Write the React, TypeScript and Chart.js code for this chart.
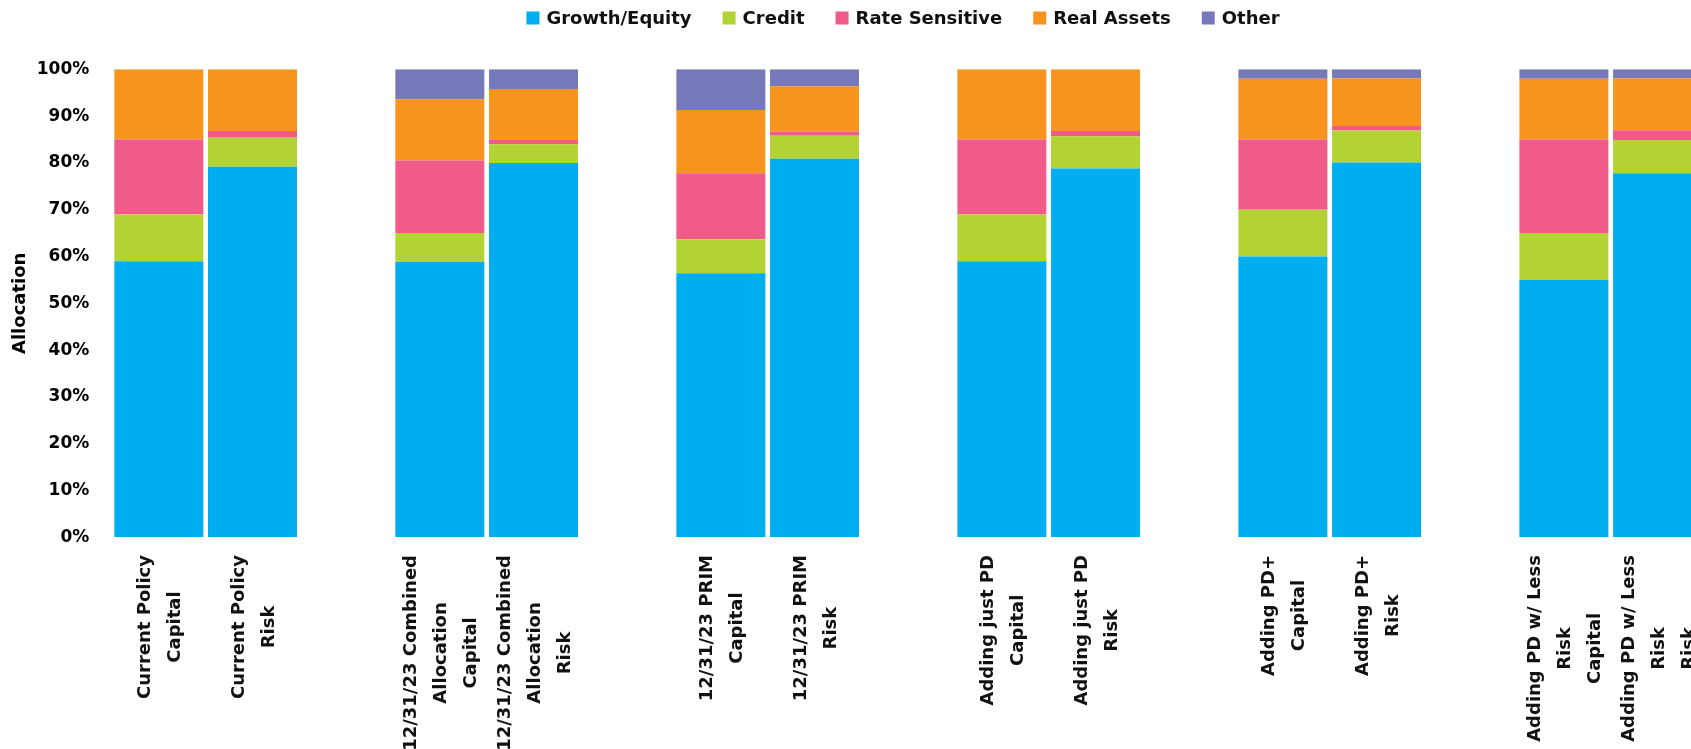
import React, { useEffect, useRef } from "react";
import { Chart, registerables } from "chart.js";

Chart.register(...registerables);

// ---------- data ----------
const CATEGORY_LABELS: string[][] = [
  ["Current Policy", "Capital"],
  ["Current Policy", "Risk"],
  [],
  ["12/31/23 Combined", "Allocation", "Capital"],
  ["12/31/23 Combined", "Allocation", "Risk"],
  [],
  ["12/31/23 PRIM", "Capital"],
  ["12/31/23 PRIM", "Risk"],
  [],
  ["Adding just PD", "Capital"],
  ["Adding just PD", "Risk"],
  [],
  ["Adding PD+", "Capital"],
  ["Adding PD+", "Risk"],
  [],
  ["Adding PD w/ Less", "Risk", "Capital"],
  ["Adding PD w/ Less", "Risk", "Risk"],
];

const GROWTH_EQUITY = [59, 79.2, null, 58.9, 80.0, null, 56.4, 80.9, null, 59, 78.8, null, 60, 80.1, null, 55, 77.8];
const CREDIT = [10, 6.2, null, 6.1, 4.0, null, 7.3, 4.9, null, 10, 6.9, null, 10, 6.8, null, 10, 7.1];
const RATE_SENSITIVE = [16, 1.4, null, 15.5, 0.9, null, 14.1, 0.9, null, 16, 1.1, null, 15, 1.0, null, 20, 2.1];
const REAL_ASSETS = [15, 13.2, null, 13.1, 10.9, null, 13.5, 9.7, null, 15, 13.2, null, 13, 10.2, null, 13, 11.1];
const OTHER = [0, 0, null, 6.4, 4.2, null, 8.7, 3.6, null, 0, 0, null, 2, 1.9, null, 2, 1.9];

const SERIES_NAMES = ["Growth/Equity", "Credit", "Rate Sensitive", "Real Assets", "Other"];
const SERIES_VALUES = [GROWTH_EQUITY, CREDIT, RATE_SENSITIVE, REAL_ASSETS, OTHER];
const SERIES_COLORS = ["#00AEEF", "#B3D335", "#F05B8A", "#F7941E", "#7579B9"];

const Y_TICK_SUFFIX = "%";
const Y_AXIS_TITLE = "Allocation";

// ---------- style ----------
const FONT = "'DejaVu Sans', 'Open Sans', sans-serif";
const TEXT_COLOR = "#111111";

const categoryLabelPlugin = {
  id: "categoryLabels",
  afterDraw(chart: any) {
    const ctx = chart.ctx;
    const xs = chart.scales.x;
    const top = chart.chartArea.bottom + 17.7;
    ctx.save();
    ctx.font = `bold 18px ${FONT}`;
    ctx.fillStyle = TEXT_COLOR;
    ctx.textAlign = "center";
    ctx.textBaseline = "middle";
    CATEGORY_LABELS.forEach((lines, i) => {
      if (!lines.length) return;
      const x = xs.getPixelForValue(i) + 1.5;
      const maxW = Math.max(...lines.map((l) => ctx.measureText(l).width));
      ctx.save();
      ctx.translate(x, top + maxW / 2);
      ctx.rotate(-Math.PI / 2);
      lines.forEach((l, j) => {
        ctx.fillText(l, 0, (j - (lines.length - 1) / 2) * 30);
      });
      ctx.restore();
    });
    ctx.restore();
  },
};

const topLegendPlugin = {
  id: "topLegend",
  afterDraw(chart: any) {
    const ctx = chart.ctx;
    ctx.save();
    ctx.font = `bold 18px ${FONT}`;
    ctx.textBaseline = "middle";
    ctx.textAlign = "left";
    const box = 13;
    const gap = 7;
    const spacing = 31;
    const items = chart.data.datasets.map((d: any) => ({
      text: d.label as string,
      color: d.backgroundColor as string,
      w: ctx.measureText(d.label).width as number,
    }));
    const total =
      items.reduce((s: number, it: any) => s + box + gap + it.w, 0) + spacing * (items.length - 1);
    let x = chart.width / 2 - total / 2;
    const cy = 18;
    items.forEach((it: any) => {
      ctx.fillStyle = it.color;
      ctx.fillRect(x, cy - box / 2, box, box);
      ctx.fillStyle = TEXT_COLOR;
      ctx.fillText(it.text, x + box + gap, cy + 1);
      x += box + gap + it.w + spacing;
    });
    ctx.restore();
  },
};

export default function App() {
  const ref = useRef<HTMLCanvasElement>(null);

  useEffect(() => {
    if (!ref.current) return;
    const chart = new Chart(ref.current, {
      type: "bar",
      data: {
        labels: CATEGORY_LABELS.map((l) => l.join(" ")),
        datasets: SERIES_NAMES.map((name, k) => ({
          label: name,
          data: SERIES_VALUES[k] as any,
          backgroundColor: SERIES_COLORS[k],
          borderWidth: 0,
          barPercentage: 0.95,
          categoryPercentage: 1.0,
        })),
      },
      options: {
        animation: false,
        responsive: true,
        maintainAspectRatio: false,
        layout: {
          padding: { top: 69.3, bottom: 222.7, left: 0, right: 101.6 },
        },
        plugins: {
          legend: { display: false },
          tooltip: { enabled: false },
          title: { display: false },
        },
        scales: {
          x: {
            stacked: true,
            ticks: { display: false },
            grid: { display: false, drawTicks: false },
            border: { display: false },
          },
          y: {
            stacked: true,
            min: 0,
            max: 100,
            ticks: {
              stepSize: 10,
              callback: (v: any) => `${v}${Y_TICK_SUFFIX}`,
              font: { family: FONT, size: 17, weight: "bold" },
              color: "#000",
              padding: 22.7,
            },
            grid: { display: false, drawTicks: false },
            border: { display: false },
            title: {
              display: true,
              text: Y_AXIS_TITLE,
              font: { family: FONT, size: 18, weight: "bold" },
              color: "#000",
              padding: { top: 9.5, bottom: 0 },
            },
            afterFit: (s: any) => {
              s.width = 112;
            },
          },
        },
      } as any,
      plugins: [categoryLabelPlugin, topLegendPlugin],
    });
    return () => chart.destroy();
  }, []);

  return (
    <div
      style={{
        position: "fixed",
        left: 0,
        top: 0,
        width: "100vw",
        height: "100vh",
        overflow: "hidden",
        background: "#fff",
      }}
    >
      <div style={{ position: "absolute", left: 0, top: 0, width: 1806, height: 760 }}>
        <canvas ref={ref} />
      </div>
    </div>
  );
}
